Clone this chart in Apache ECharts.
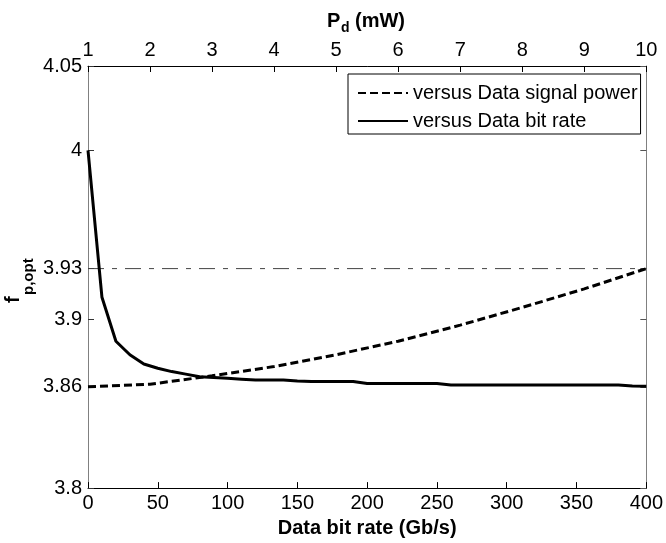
<!DOCTYPE html>
<html>
<head>
<meta charset="utf-8">
<script src="https://cdn.jsdelivr.net/npm/echarts@6/dist/echarts.min.js"></script>
<style>
html,body{margin:0;padding:0;background:#fff;}
#chart{width:666px;height:543px;}
</style>
</head>
<body>
<div id="chart"></div>
<script>
// Bottom axis: data bit rate (Gb/s)
const bitRate = [0,10,20,30,40,50,60,70,80,90,100,110,120,130,140,150,160,170,180,190,200,
  210,220,230,240,250,260,270,280,290,300,310,320,330,340,350,360,370,380,390,400];
const fpVsBitRate = [4.000,3.913,3.887,3.879,3.8735,3.871,3.869,3.8675,3.866,3.8655,3.865,
  3.8645,3.864,3.864,3.864,3.8635,3.8632,3.8632,3.8632,3.8632,3.862,
  3.862,3.862,3.862,3.862,3.862,3.861,3.861,3.861,3.861,3.861,3.861,3.861,3.861,3.861,3.861,3.861,3.861,3.861,3.8605,3.8603];
// Top axis: data signal power Pd (mW)
const dataPower = [1,2,3,4,5,6,7,8,9,10];
const fpVsPower = [3.860,3.8615,3.8665,3.872,3.879,3.887,3.8965,3.907,3.918,3.930];
// Reference level
const refLevel = 3.93;
const refRange = [0,400];
// Axis ticks
const yTicks = [3.8,3.86,3.9,3.93,4,4.05];
const legendNames = ['versus Data signal power','versus Data bit rate'];

const FONT = "'Liberation Sans', Arial, Helvetica, sans-serif";
const chart = echarts.init(document.getElementById('chart'));

const baseX = {
  type:'value',
  splitLine:{show:false},
  axisTick:{inside:true,length:6,lineStyle:{color:'#000'}},
  axisLabel:{color:'#000',fontSize:20,fontFamily:FONT},
};

chart.setOption({
  animation:false,
  backgroundColor:'#fff',
  grid:{left:88,right:15,top:66,bottom:53,containLabel:false},
  xAxis:[
    Object.assign({}, baseX, {
      position:'bottom', min:0, max:400, interval:50,
      axisLine:{lineStyle:{color:'#000',width:1}},
      axisLabel:Object.assign({}, baseX.axisLabel, {margin:5}),
      name:'Data bit rate (Gb/s)', nameLocation:'middle', nameGap:20,
      nameTextStyle:{color:'#000',fontSize:20,fontWeight:'bold',fontFamily:FONT}
    }),
    Object.assign({}, baseX, {
      position:'top', min:1, max:10, interval:1,
      axisLine:{lineStyle:{color:'#000',width:1}},
      axisLabel:Object.assign({}, baseX.axisLabel, {margin:6})
    })
  ],
  yAxis:[
    {
      type:'value', position:'left', min:3.8, max:4.05,
      splitLine:{show:false},
      axisLine:{show:true,lineStyle:{color:'#808080',width:1}},
      axisTick:{inside:true,length:6,customValues:yTicks,lineStyle:{color:'#333'}},
      axisLabel:{customValues:yTicks,color:'#000',fontSize:20,fontFamily:FONT,margin:6,
        formatter:function(v){return String(+v.toFixed(2));}}
    },
    {
      type:'value', position:'right', min:3.8, max:4.05,
      splitLine:{show:false},
      axisLine:{show:true,lineStyle:{color:'#808080',width:1}},
      axisTick:{inside:true,length:6,customValues:yTicks,lineStyle:{color:'#555'}},
      axisLabel:{show:false}
    }
  ],
  legend:{
    data:legendNames,
    orient:'vertical',
    left:348, top:74,
    padding:[9,3,3,9],
    itemWidth:50, itemHeight:20, itemGap:8,
    borderColor:'#000', borderWidth:1, backgroundColor:'#fff',
    itemStyle:{color:'rgba(0,0,0,0)',borderColor:'rgba(0,0,0,0)',borderWidth:0,opacity:0},
    textStyle:{color:'#000',fontSize:20,fontFamily:FONT},
    selectedMode:false
  },
  series:[
    {
      name:'ref', type:'line', xAxisIndex:0, yAxisIndex:0,
      data:refRange.map(x=>[x,refLevel]),
      symbol:'none', silent:true,
      lineStyle:{color:'#444',width:1,type:[16,8,5,8]},
      z:1
    },
    {
      name:legendNames[0], type:'line', xAxisIndex:1, yAxisIndex:0,
      data:dataPower.map((p,i)=>[p,fpVsPower[i]]),
      symbol:'none', silent:true,
      lineStyle:{color:'#000',width:3,type:[8,4]},
      itemStyle:{color:'#000'},
      z:3
    },
    {
      name:legendNames[1], type:'line', xAxisIndex:0, yAxisIndex:0,
      data:bitRate.map((b,i)=>[b,fpVsBitRate[i]]),
      symbol:'none', silent:true,
      lineStyle:{color:'#000',width:3,type:'solid'},
      itemStyle:{color:'#000'},
      z:3
    }
  ],
  graphic:[
    { type:'text', x:327, y:21,
      style:{text:'P',fill:'#000',font:'bold 20px '+FONT,textAlign:'left',textVerticalAlign:'middle'} },
    { type:'text', x:341, y:28,
      style:{text:'d',fill:'#000',font:'bold 14px '+FONT,textAlign:'left',textVerticalAlign:'middle'} },
    { type:'text', x:355, y:21,
      style:{text:'(mW)',fill:'#000',font:'bold 20px '+FONT,textAlign:'left',textVerticalAlign:'middle'} },
    { type:'group', x:13, y:303, rotation:Math.PI/2,
      children:[
        { type:'text', x:0, y:0,
          style:{text:'f',fill:'#000',font:'bold 20px '+FONT,textAlign:'left',textVerticalAlign:'middle'} },
        { type:'text', x:8, y:16,
          style:{text:'p,opt',fill:'#000',font:'bold 15px '+FONT,textAlign:'left',textVerticalAlign:'middle'} }
      ]
    }
  ]
});
</script>
</body>
</html>
